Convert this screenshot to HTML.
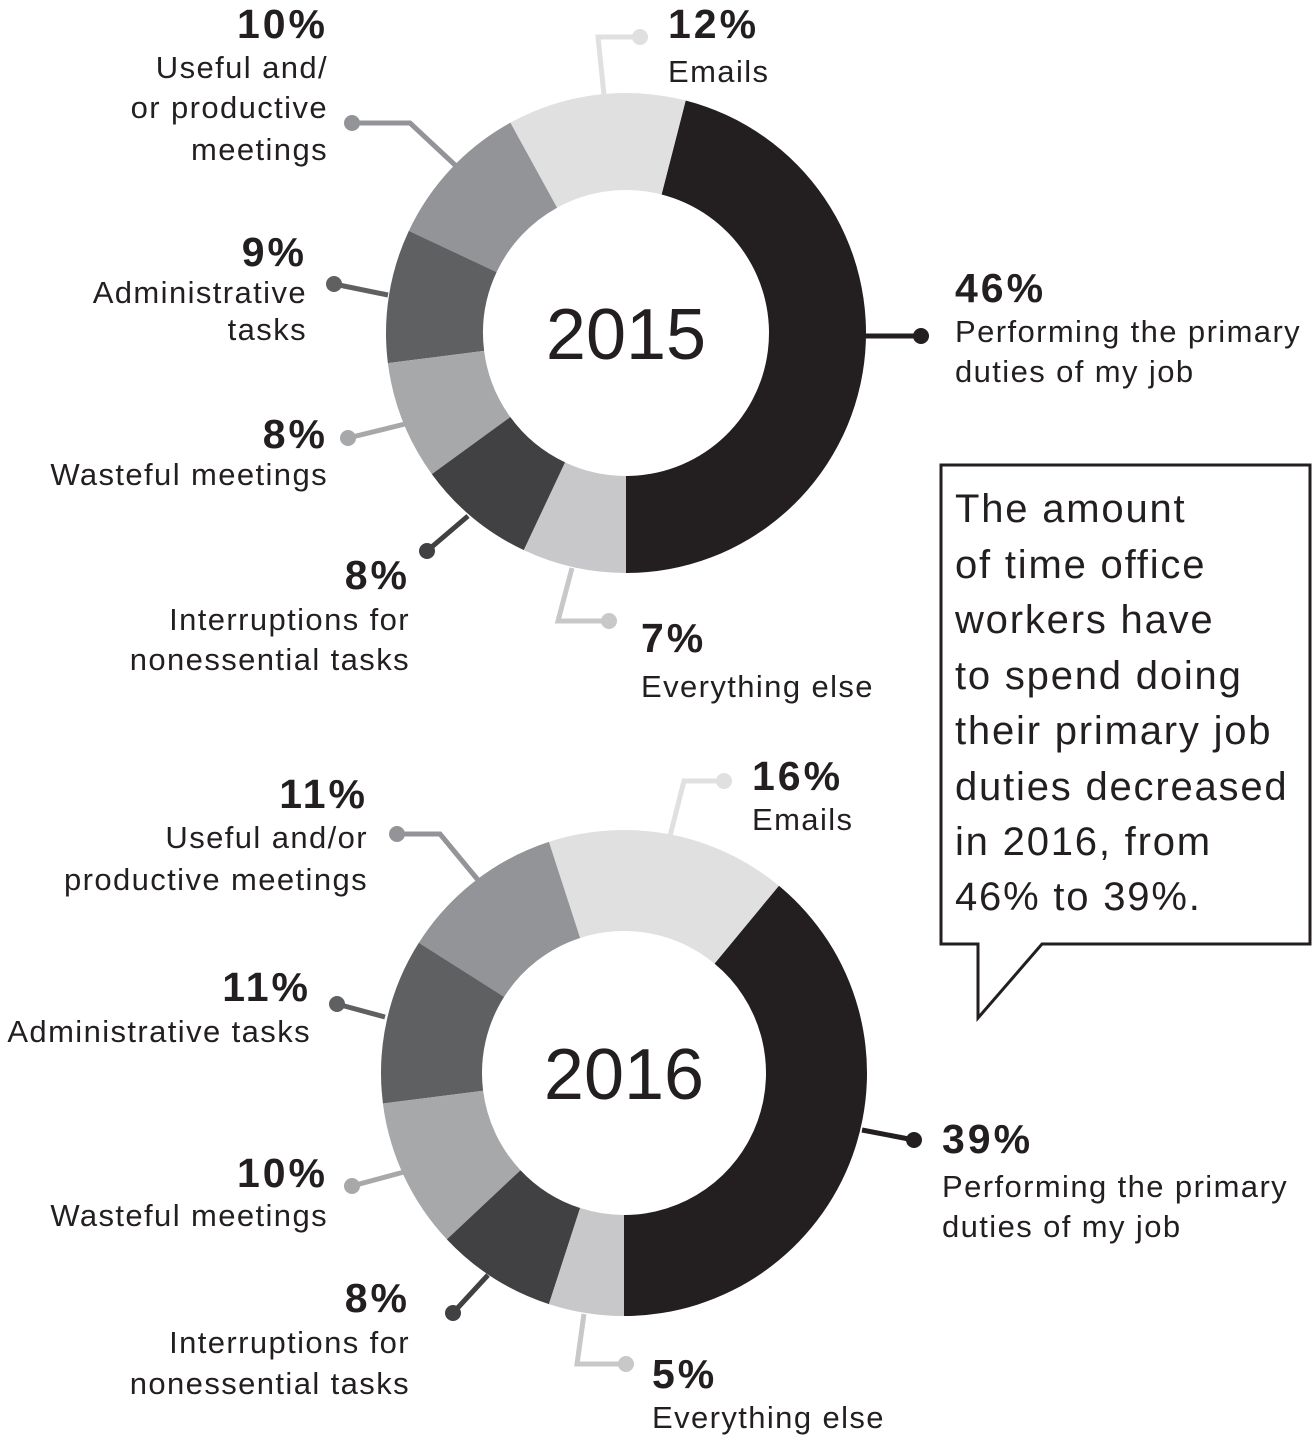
<!DOCTYPE html>
<html><head><meta charset="utf-8"><style>
html,body{margin:0;padding:0;background:#fff}
svg{display:block}
text{font-family:"Liberation Sans",sans-serif;fill:#231f20}
.p{font-size:41px;font-weight:bold;letter-spacing:3px}
.l{font-size:31px;letter-spacing:1.4px}
.c{font-size:40px;letter-spacing:1.8px}
</style></head><body>
<svg id="chart" width="1313" height="1439" viewBox="0 0 1313 1439">
<g id="g2015"></g>
<g id="g2016"></g>
<g fill="none" stroke-width="5">
<path d="M352,123 H410 L455,165" stroke="#939497"/><circle cx="352" cy="123" r="8" fill="#939497" stroke="none"/>
<path d="M640,37 H598 L604,95" stroke="#e0e0e1"/><circle cx="640" cy="37" r="8" fill="#e0e0e1" stroke="none"/>
<path d="M334,284 L388,295" stroke="#5f6062"/><circle cx="334" cy="284" r="8" fill="#5f6062" stroke="none"/>
<path d="M348,438 L405,424" stroke="#a7a8aa"/><circle cx="348" cy="438" r="8" fill="#a7a8aa" stroke="none"/>
<path d="M427,551 L468,516" stroke="#414143"/><circle cx="427" cy="551" r="8" fill="#414143" stroke="none"/>
<path d="M609,621 H558 L572,568" stroke="#c8c8ca"/><circle cx="609" cy="621" r="8" fill="#c8c8ca" stroke="none"/>
<path d="M864,336 H921" stroke="#231f20"/><circle cx="921" cy="336" r="8" fill="#231f20" stroke="none"/>
<path d="M724,781 H684 L670,836" stroke="#e0e0e1"/><circle cx="724" cy="781" r="8" fill="#e0e0e1" stroke="none"/>
<path d="M397,834 H440 L478,880" stroke="#939497"/><circle cx="397" cy="834" r="8" fill="#939497" stroke="none"/>
<path d="M337,1004 L385,1017" stroke="#5f6062"/><circle cx="337" cy="1004" r="8" fill="#5f6062" stroke="none"/>
<path d="M352,1186 L404,1172" stroke="#a7a8aa"/><circle cx="352" cy="1186" r="8" fill="#a7a8aa" stroke="none"/>
<path d="M453,1313 L488,1275" stroke="#414143"/><circle cx="453" cy="1313" r="8" fill="#414143" stroke="none"/>
<path d="M626,1364 H577 L584,1314" stroke="#c8c8ca"/><circle cx="626" cy="1364" r="8" fill="#c8c8ca" stroke="none"/>
<path d="M862,1130 L914,1140" stroke="#231f20"/><circle cx="914" cy="1140" r="8" fill="#231f20" stroke="none"/>
</g>
<g>
<text class="p" x="328" y="38" text-anchor="end">10%</text>
<text class="l" x="328" y="78" text-anchor="end">Useful and/</text>
<text class="l" x="328" y="118" text-anchor="end">or productive</text>
<text class="l" x="328" y="160" text-anchor="end">meetings</text>
<text class="p" x="668" y="38">12%</text>
<text class="l" x="668" y="82">Emails</text>
<text class="p" x="307" y="266" text-anchor="end">9%</text>
<text class="l" x="307" y="303" text-anchor="end">Administrative</text>
<text class="l" x="307" y="340" text-anchor="end">tasks</text>
<text class="p" x="328" y="448" text-anchor="end">8%</text>
<text class="l" x="328" y="485" text-anchor="end">Wasteful meetings</text>
<text class="p" x="410" y="589" text-anchor="end">8%</text>
<text class="l" x="410" y="630" text-anchor="end">Interruptions for</text>
<text class="l" x="410" y="670" text-anchor="end">nonessential tasks</text>
<text class="p" x="641" y="652">7%</text>
<text class="l" x="641" y="697">Everything else</text>
<text class="p" x="955" y="302">46%</text>
<text class="l" x="955" y="342">Performing the primary</text>
<text class="l" x="955" y="382">duties of my job</text>
</g>
<g>
<text class="p" x="752" y="790">16%</text>
<text class="l" x="752" y="830">Emails</text>
<text class="p" x="368" y="808" text-anchor="end">11%</text>
<text class="l" x="368" y="848" text-anchor="end">Useful and/or</text>
<text class="l" x="368" y="890" text-anchor="end">productive meetings</text>
<text class="p" x="311" y="1001" text-anchor="end">11%</text>
<text class="l" x="311" y="1042" text-anchor="end">Administrative tasks</text>
<text class="p" x="328" y="1187" text-anchor="end">10%</text>
<text class="l" x="328" y="1226" text-anchor="end">Wasteful meetings</text>
<text class="p" x="410" y="1312" text-anchor="end">8%</text>
<text class="l" x="410" y="1353" text-anchor="end">Interruptions for</text>
<text class="l" x="410" y="1394" text-anchor="end">nonessential tasks</text>
<text class="p" x="652" y="1388">5%</text>
<text class="l" x="652" y="1428">Everything else</text>
<text class="p" x="942" y="1153">39%</text>
<text class="l" x="942" y="1197">Performing the primary</text>
<text class="l" x="942" y="1237">duties of my job</text>
</g>
<g>
<path d="M941,465 H1310 V944 H1042 L978,1018 V944 H941 Z" fill="#fff" stroke="#231f20" stroke-width="3"/>
<text class="c" x="955" y="522">The amount</text>
<text class="c" x="955" y="578">of time office</text>
<text class="c" x="955" y="633">workers have</text>
<text class="c" x="955" y="689">to spend doing</text>
<text class="c" x="955" y="744">their primary job</text>
<text class="c" x="955" y="800">duties decreased</text>
<text class="c" x="955" y="855">in 2016, from</text>
<text class="c" x="955" y="910">46% to 39%.</text>
</g>
</svg>
<script>
const categories = ["Performing the primary duties of my job","Emails","Useful and/or productive meetings","Administrative tasks","Wasteful meetings","Interruptions for nonessential tasks","Everything else"];
const values2015 = [46,12,10,9,8,8,7];
const values2016 = [39,16,11,11,10,8,5];
const colors = ["#231f20","#e0e0e1","#939497","#5f6062","#a7a8aa","#414143","#c8c8ca"];
const NS = "http://www.w3.org/2000/svg";
function drawDonut(gid, vals, cx, cy, ro, ri, year){
  const g = document.getElementById(gid);
  const total = vals.reduce((a,b)=>a+b,0);
  let acc = 0;
  const pt = (f,r)=>{const a=f*2*Math.PI;return [cx + r*Math.sin(a), cy + r*Math.cos(a)];};
  vals.forEach((v,i)=>{
    const f0 = acc/total, f1 = (acc+v)/total; acc += v;
    const large = (f1-f0)>0.5?1:0;
    const [x0,y0]=pt(f0,ro),[x1,y1]=pt(f1,ro),[x2,y2]=pt(f1,ri),[x3,y3]=pt(f0,ri);
    const p = document.createElementNS(NS,"path");
    p.setAttribute("d",`M${x0},${y0} A${ro},${ro} 0 ${large} 0 ${x1},${y1} L${x2},${y2} A${ri},${ri} 0 ${large} 1 ${x3},${y3} Z`);
    p.setAttribute("fill",colors[i]);
    
    
    g.appendChild(p);
  });
  const t = document.createElementNS(NS,"text");
  t.setAttribute("x",cx); t.setAttribute("y",cy+26);
  t.setAttribute("text-anchor","middle");
  t.setAttribute("style","font-size:72px");
  t.textContent = year;
  
  
  g.appendChild(t);
}
drawDonut("g2015", values2015, 626, 333, 240, 143, "2015");
drawDonut("g2016", values2016, 624, 1073, 243, 142, "2016");
</script>
</body></html>
